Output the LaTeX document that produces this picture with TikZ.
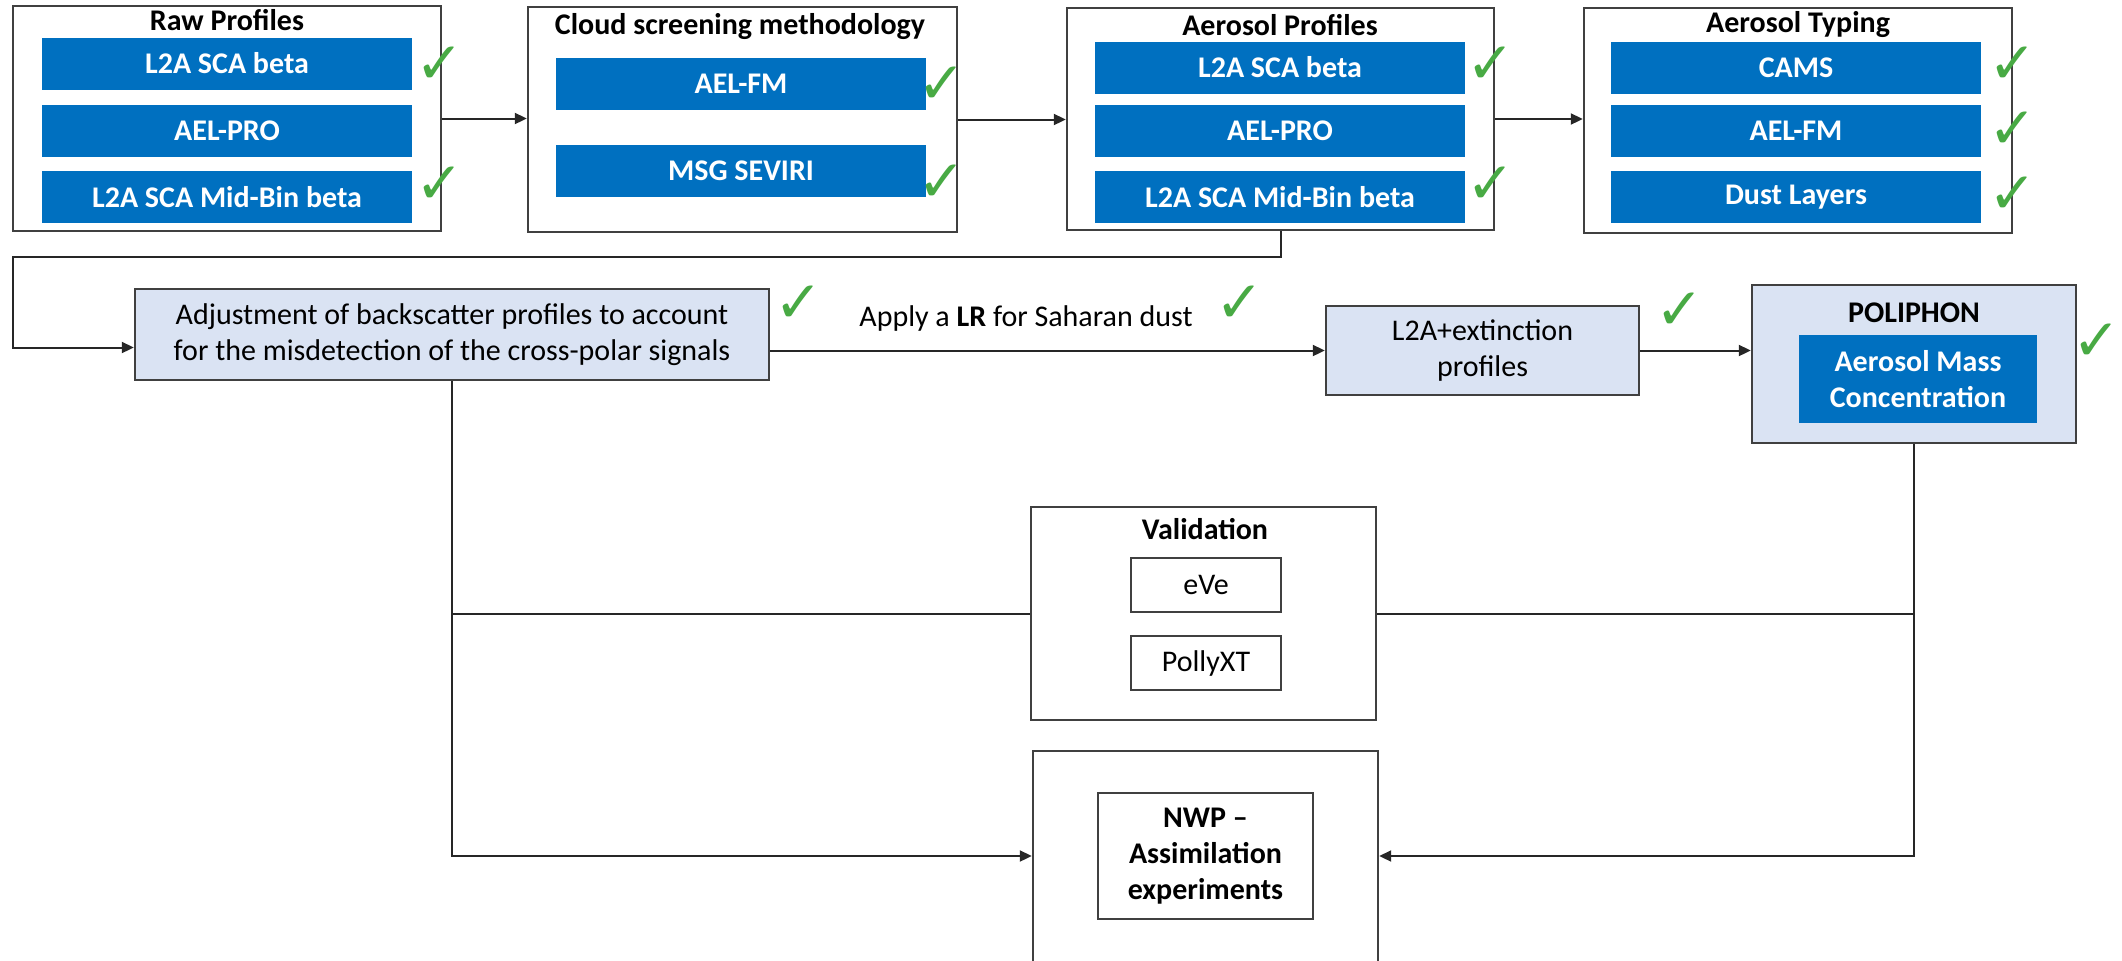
\documentclass[tikz,border=0pt]{standalone}
\usepackage{fontspec}
\setmainfont{Carlito}
\newfontfamily\checkfont{DejaVu Sans}
\usetikzlibrary{arrows.meta}

\definecolor{barblue}{RGB}{0,112,192}
\definecolor{paleblue}{RGB}{218,227,243}
\definecolor{okgreen}{RGB}{72,170,68}
\definecolor{edgegray}{RGB}{64,64,64}

\tikzset{
  every node/.style={font=\fontsize{15}{18}\selectfont, inner sep=0pt},
  panel/.style={draw=edgegray, line width=1.2pt, fill=white},
  softbox/.style={draw=edgegray, line width=1.2pt, fill=paleblue, align=center},
  plainbox/.style={draw=edgegray, line width=1.2pt, fill=white, align=center},
  bar/.style={fill=barblue, text=white, align=center,
    font=\fontsize{15}{18}\selectfont\bfseries,
    minimum width=185pt, minimum height=26pt},
  heading/.style={font=\fontsize{15}{18}\selectfont\bfseries},
  okmark/.style={text=okgreen, font=\checkfont\fontsize{29}{29}\selectfont},
  wire/.style={draw=black!85, line width=1pt},
  link/.style={wire, -{Triangle[length=6pt,width=5.5pt]}}
}

\begin{document}
\begin{tikzpicture}[x=0.5pt,y=-0.5pt]
  \useasboundingbox (0,0) rectangle (2122,960);

  \node (raw)      at (227,118.5)  [panel, minimum width=214pt, minimum height=112.5pt] {};
  \node (cloud)    at (742.5,119.5) [panel, minimum width=214.5pt, minimum height=112.5pt] {};
  \node (aerprof)  at (1280.5,119) [panel, minimum width=213.5pt, minimum height=111pt] {};
  \node (typing)   at (1798,120.5) [panel, minimum width=214pt, minimum height=112.5pt] {};

  \node (rawtitle)     at (227,20)   [heading] {Raw Profiles};
  \node (cloudtitle)   at (740,27)   [heading] {Cloud screening methodology};
  \node (aerproftitle) at (1280,25)  [heading] {Aerosol Profiles};
  \node (typingtitle)  at (1798,25)  [heading] {Aerosol Typing};

  \node (rawbeta)   at (227,63.5) [bar] {L2A SCA beta};
  \node (rawpro)    at (227,131)  [bar] {AEL-PRO};
  \node (rawmid)    at (227,197)  [bar] {L2A SCA Mid-Bin beta};
  \node (cloudfm)   at (741,84)   [bar] {AEL-FM};
  \node (cloudmsg)  at (741,171)  [bar] {MSG SEVIRI};
  \node (aerbeta)   at (1280,67.5) [bar] {L2A SCA beta};
  \node (aerpro)    at (1280,131) [bar] {AEL-PRO};
  \node (aermid)    at (1280,197) [bar] {L2A SCA Mid-Bin beta};
  \node (typcams)   at (1796,67.5) [bar] {CAMS};
  \node (typfm)     at (1796,131) [bar] {AEL-FM};
  \node (typdust)   at (1796,197) [bar] {Dust Layers};

  \node (ok1)  at (440,65)   [okmark] {✓};
  \node (ok2)  at (440,185)  [okmark] {✓};
  \node (ok3)  at (942,85)   [okmark] {✓};
  \node (ok4)  at (942,183)  [okmark] {✓};
  \node (ok5)  at (1491,65)  [okmark] {✓};
  \node (ok6)  at (1491,185) [okmark] {✓};
  \node (ok7)  at (2013,65)  [okmark] {✓};
  \node (ok8)  at (2013,130) [okmark] {✓};
  \node (ok9)  at (2013,195) [okmark] {✓};

  \node (adjust) at (452,334.5) [softbox, minimum width=317pt, minimum height=45.5pt]
    {Adjustment of backscatter profiles to account\\for the misdetection of the cross-polar signals};
  \node (lrtext) at (1026,318) {Apply a \textbf{LR} for Saharan dust};
  \node (l2a) at (1482.5,350.5) [softbox, minimum width=156.5pt, minimum height=44.5pt]
    {L2A+extinction\\profiles};
  \node (poliphon) at (1914,364) [softbox, minimum width=162pt, minimum height=79pt] {};
  \node (poltitle) at (1914,313) [heading] {POLIPHON};
  \node (massconc) at (1918,379) [bar, minimum width=119pt, minimum height=44pt]
    {Aerosol Mass\\Concentration};

  \node (ok10) at (799,304)  [okmark] {✓};
  \node (ok11) at (1240,304) [okmark] {✓};
  \node (ok12) at (1680,311) [okmark] {✓};
  \node (ok13) at (2097,342) [okmark] {✓};

  \node (valid) at (1203.5,613.5) [panel, minimum width=172.5pt, minimum height=106.5pt] {};
  \node (validtitle) at (1205,529) [heading] {Validation};
  \node (eve)    at (1206,585) [plainbox, minimum width=75pt, minimum height=27pt] {eVe};
  \node (polly)  at (1206,663) [plainbox, minimum width=75pt, minimum height=27pt] {PollyXT};

  \node (nwp)   at (1205.5,865.5) [panel, minimum width=172.5pt, minimum height=114.5pt] {};
  \node (nwpin) at (1205.5,856) [plainbox, font=\fontsize{15}{18}\selectfont\bfseries,
    minimum width=107.5pt, minimum height=63pt] {NWP --\\Assimilation\\experiments};

  \coordinate (bend) at (13,257);

  \draw[link] (raw) -- (raw -| cloud.west);
  \draw[link] (cloud) -- (cloud -| aerprof.west);
  \draw[link] (aerprof) -- (aerprof -| typing.west);
  \draw[link] (aerprof.south) |- (bend) |- ([yshift=-6.5pt]adjust.west);
  \draw[link] (l2a.west -| adjust.east) -- (l2a.west);
  \draw[link] (l2a.east) -- (l2a.east -| poliphon.west);
  \draw[link] (adjust.south) |- (nwp.west |- nwpin);
  \draw[link] (poliphon.south) |- (nwp.east |- nwpin);
  \draw[wire] (adjust.south |- valid) -- (valid.west);
  \draw[wire] (valid.east) -- (valid -| poliphon.south);
\end{tikzpicture}
\end{document}
